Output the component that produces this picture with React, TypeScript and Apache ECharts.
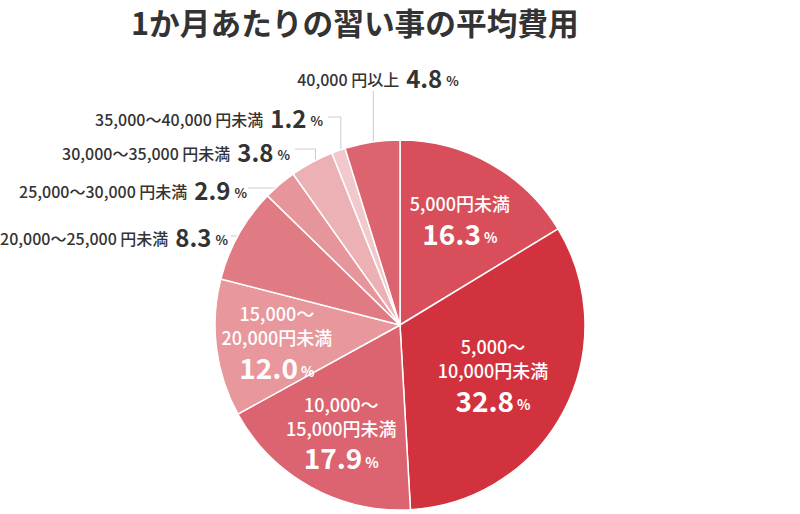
import React, { useEffect, useRef } from 'react';
import * as echarts from 'echarts';

// ---- data ----
const TITLE = '1か月あたりの習い事の平均費用';
const categories = [
  '5,000円未満',
  '5,000～10,000円未満',
  '10,000～15,000円未満',
  '15,000～20,000円未満',
  '20,000～25,000円未満',
  '25,000～30,000円未満',
  '30,000～35,000円未満',
  '35,000～40,000円未満',
  '40,000円以上',
];
const values = [16.3, 32.8, 17.9, 12.0, 8.3, 2.9, 3.8, 1.2, 4.8];
const labelLines = [
  ['5,000円未満'],
  ['5,000～', '10,000円未満'],
  ['10,000～', '15,000円未満'],
  ['15,000～', '20,000円未満'],
  ['20,000～25,000 円未満'],
  ['25,000～30,000 円未満'],
  ['30,000～35,000 円未満'],
  ['35,000～40,000 円未満'],
  ['40,000 円以上'],
];

// ---- style / layout ----
const colors = ['#d84e5a', '#d2323e', '#db6470', '#e8979d', '#e07b84', '#e6959b', '#ecb1b5', '#f1c9cc', '#dc6470'];
const inside = [true, true, true, true, false, false, false, false, false];
const CX = 400;
const CY = 325;
const R = 185;
const innerRadial = [1.28, 1.1, 1.27, 1.3];
const outerLayout: Record<number, any> = {
  4: { x: 228, y: 236, lineY: 236, endX: 231, align: 'right', mode: 'h' },
  5: { x: 247, y: 189, lineY: 188, endX: 248, align: 'right', mode: 'h' },
  6: { x: 290, y: 151, lineY: 149, endX: 295, align: 'right', mode: 'vh' },
  7: { x: 323, y: 117, lineY: 117, endX: 328, align: 'right', mode: 'vh' },
  8: { x: 378, y: 77, lineY: 91, align: 'center', mode: 'v' },
};
const FONT = "'Noto Sans CJK JP', 'Noto Sans', sans-serif";

export default function App() {
  const ref = useRef<HTMLDivElement>(null);
  useEffect(() => {
    if (!ref.current) return;
    const chart = echarts.init(ref.current, undefined, { renderer: 'svg' });

    const data = categories.map((name, i) => {
      const isIn = inside[i];
      const v = values[i].toFixed(1);
      const text = isIn
        ? labelLines[i].map((l) => `{n|${l}}`).join('\n') + `\n{v|${v}}{p|%}`
        : `{n|${labelLines[i][0]}}{v|${v}}{p|%}`;
      return {
        name,
        value: values[i],
        itemStyle: { color: colors[i] },
        label: isIn
          ? {
              position: 'inside',
              formatter: text,
              align: 'center',
              rich: {
                n: { fontFamily: FONT, fontSize: 18, fontWeight: 500, color: '#fff', lineHeight: 24, align: 'center' },
                v: { fontFamily: FONT, fontSize: 28, fontWeight: 'bold', color: '#fff', lineHeight: 32, verticalAlign: 'bottom' },
                p: { fontFamily: FONT, fontSize: 14, fontWeight: 'bold', color: '#fff', lineHeight: 14, verticalAlign: 'bottom', padding: [0, 0, 3, 3] },
              },
            }
          : {
              position: 'outside',
              formatter: text,
              rich: {
                n: { fontFamily: FONT, fontSize: 16, fontWeight: 500, color: '#333', lineHeight: 16, verticalAlign: 'bottom', padding: [0, 7, 2, 0] },
                v: { fontFamily: FONT, fontSize: 24, fontWeight: 'bold', color: '#333', lineHeight: 24, verticalAlign: 'bottom' },
                p: { fontFamily: FONT, fontSize: 13, fontWeight: 'bold', color: '#333', lineHeight: 13, verticalAlign: 'bottom', padding: [0, 0, 2, 4] },
              },
            },
        labelLine: { show: !isIn },
      };
    });

    chart.setOption({
      animation: false,
      title: {
        text: TITLE,
        left: 131,
        top: 1,
        padding: 0,
        textStyle: { fontFamily: FONT, fontSize: 30.7, fontWeight: 'bold', color: '#333', lineHeight: 40 },
      },
      series: [
        {
          type: 'pie',
          center: [CX, CY],
          radius: R,
          startAngle: 90,
          clockwise: true,
          avoidLabelOverlap: false,
          itemStyle: { borderColor: '#fff', borderWidth: 1.5 },
          labelLine: { lineStyle: { color: '#cccccc', width: 1 } },
          emphasis: { disabled: true },
          data,
          labelLayout: (params: any) => {
            const i = params.dataIndex;
            if (inside[i]) {
              const r = params.labelRect;
              const lx = r.x + r.width / 2;
              const ly = r.y + r.height / 2;
              const k = innerRadial[i];
              return { dx: (lx - CX) * (k - 1), dy: (ly - CY) * (k - 1) };
            }
            const a = outerLayout[i];
            const p1 = params.labelLinePoints ? params.labelLinePoints[0] : [CX, CY];
            const s = [CX + (p1[0] - CX) * 0.96, CY + (p1[1] - CY) * 0.96];
            let pts;
            if (a.mode === 'h') {
              pts = [[s[0], a.lineY], [s[0], a.lineY], [a.endX, a.lineY]];
            } else if (a.mode === 'vh') {
              pts = [s, [s[0], a.lineY], [a.endX, a.lineY]];
            } else {
              pts = [s, [s[0], a.lineY], [s[0], a.lineY]];
            }
            return { x: a.x, y: a.y, align: a.align, verticalAlign: 'middle', labelLinePoints: pts };
          },
        },
      ],
    });
    return () => chart.dispose();
  }, []);
  return (
    <div
      ref={ref}
      style={{ position: 'fixed', left: 0, top: 0, width: 800, height: 514, background: '#fff' }}
    />
  );
}
